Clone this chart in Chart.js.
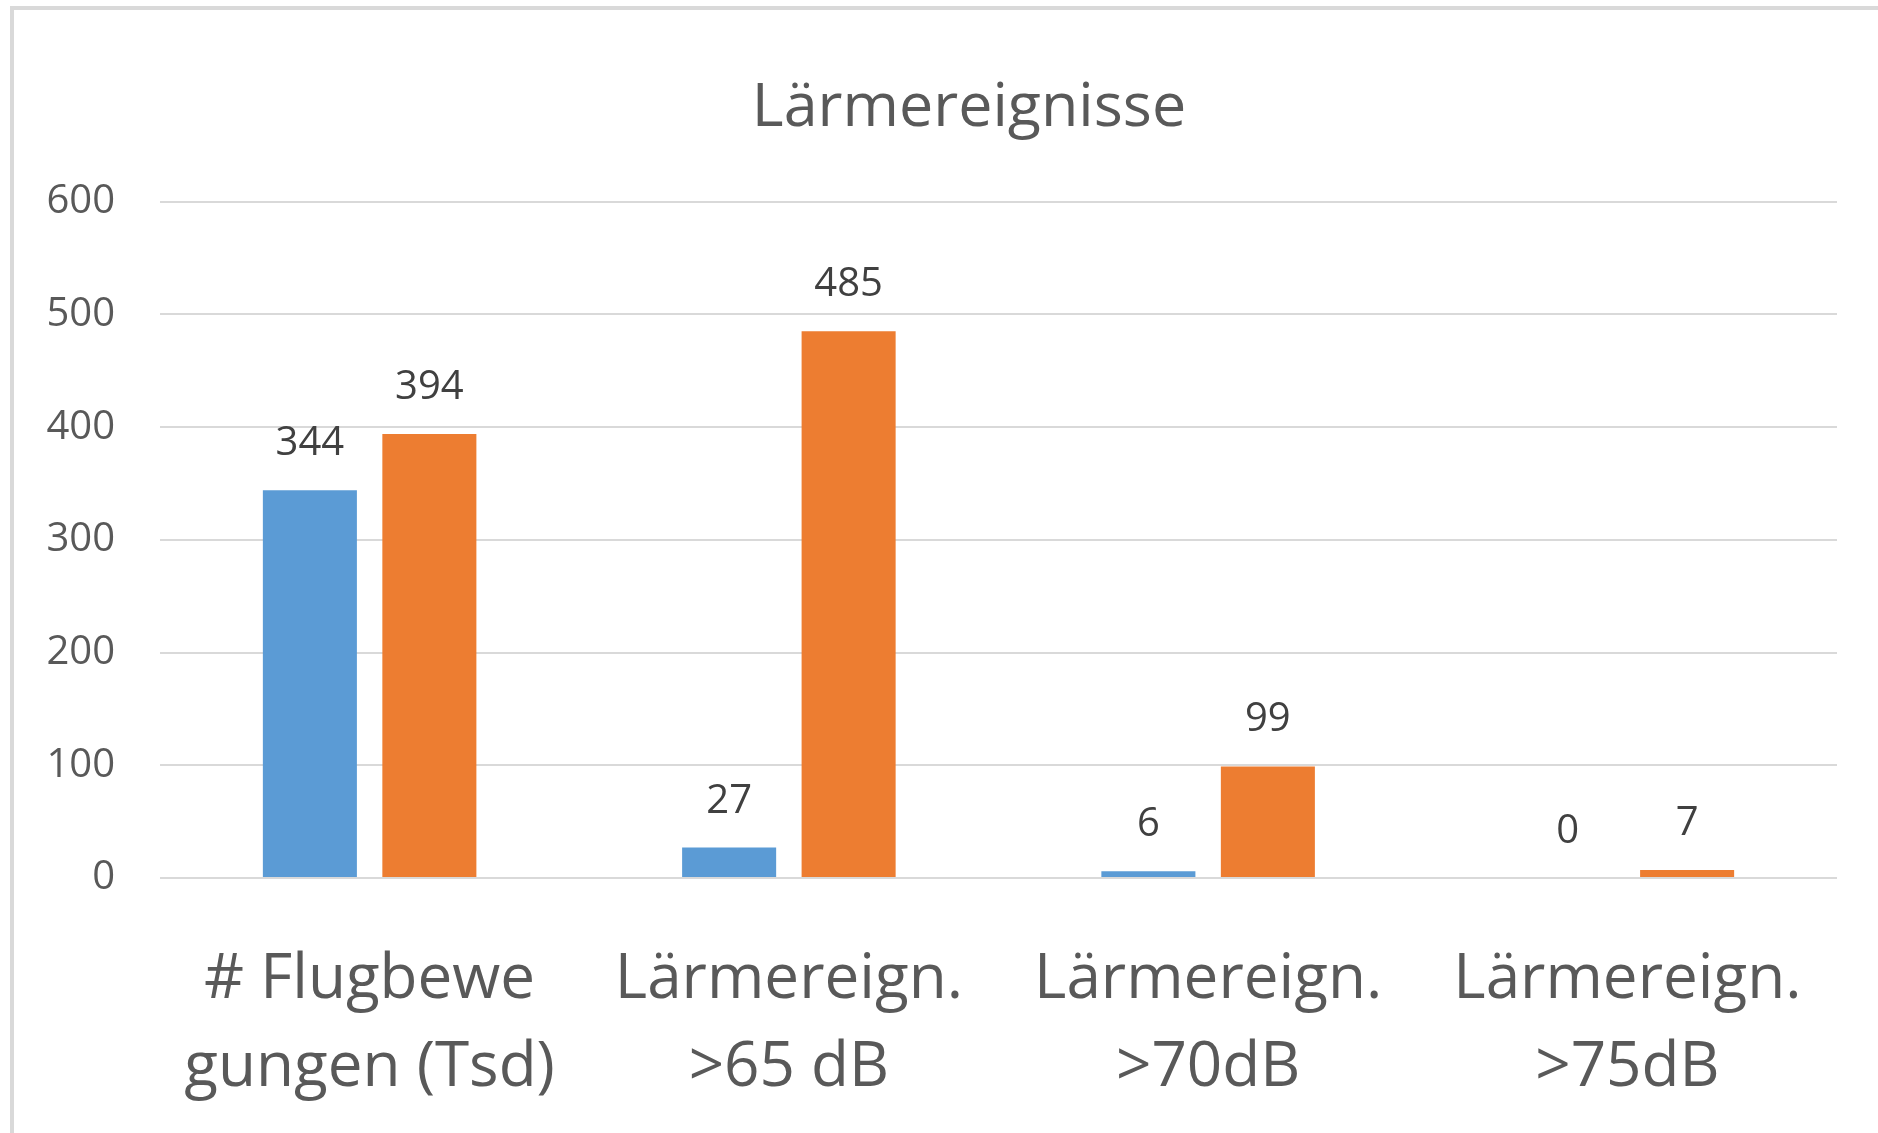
<!DOCTYPE html>
<html>
<head>
<meta charset="utf-8">
<script src="https://cdn.jsdelivr.net/npm/chart.js@4.4.1/dist/chart.umd.min.js"></script>
<style>
  html, body { margin: 0; padding: 0; background: #fff; overflow: hidden; }
  #frame { position: absolute; left: 10px; top: 6px; width: 2000px; height: 1300px; border: 4px solid #d9d9d9; }
  #chart { position: absolute; left: 0; top: 0; }
</style>
</head>
<body>
<div id="frame"></div>
<canvas id="chart" width="1878" height="1133"></canvas>
<script>
const chartTitle = "Lärmereignisse";
const categories = [
  ["# Flugbewe", "gungen (Tsd)"],
  ["Lärmereign.", ">65 dB"],
  ["Lärmereign.", ">70dB"],
  ["Lärmereign.", ">75dB"]
];
const seriesBlue = [344, 27, 6, 0];
const seriesOrange = [394, 485, 99, 7];
const yTicks = [0, 100, 200, 300, 400, 500, 600];

const FONT = "'Open Sans', 'DejaVu Sans', sans-serif";
const textGray = "#595959";

// title is centred on the whole chart frame (wider than the viewport), so draw it by hand
const frameTitle = {
  id: "frameTitle",
  afterDraw(chart) {
    const ctx = chart.ctx;
    ctx.save();
    ctx.font = "61px " + FONT;
    ctx.fillStyle = textGray;
    ctx.textAlign = "center";
    ctx.textBaseline = "alphabetic";
    ctx.fillText(chartTitle, 969, 126);
    ctx.restore();
  }
};

// value labels above each bar
const valueLabels = {
  id: "valueLabels",
  afterDatasetsDraw(chart) {
    const ctx = chart.ctx;
    ctx.save();
    ctx.font = "40px " + FONT;
    ctx.fillStyle = "#404040";
    ctx.textAlign = "center";
    ctx.textBaseline = "alphabetic";
    chart.data.datasets.forEach((ds, i) => {
      chart.getDatasetMeta(i).data.forEach((bar, j) => {
        ctx.fillText(String(ds.data[j]), bar.x, bar.y - 35);
      });
    });
    ctx.restore();
  }
};

const ctx = document.getElementById("chart").getContext("2d");
new Chart(ctx, {
  type: "bar",
  data: {
    labels: categories,
    datasets: [
      { label: "Reihe 1", data: seriesBlue, backgroundColor: "#5b9bd5", barPercentage: 0.787, categoryPercentage: 0.57 },
      { label: "Reihe 2", data: seriesOrange, backgroundColor: "#ed7d31", barPercentage: 0.787, categoryPercentage: 0.57 }
    ]
  },
  options: {
    responsive: false,
    animation: false,
    layout: { padding: { left: 0, right: 41, top: 201.7, bottom: 0 } },
    plugins: {
      legend: { display: false },
      tooltip: { enabled: false },
      title: { display: false }
    },
    scales: {
      x: {
        grid: { display: false },
        border: { display: false },
        ticks: {
          color: textGray,
          font: { family: FONT, size: 62, lineHeight: 1.42 },
          padding: 50,
          maxRotation: 0,
          autoSkip: false
        },
        afterFit: (scale) => { scale.height = 255; }
      },
      y: {
        min: yTicks[0],
        max: yTicks[yTicks.length - 1],
        grid: { color: "#d9d9d9", lineWidth: 2, drawTicks: false },
        border: { display: false },
        ticks: {
          stepSize: yTicks[1] - yTicks[0],
          color: textGray,
          font: { family: FONT, size: 40 },
          padding: 45
        },
        afterFit: (scale) => { scale.width = 160; }
      }
    }
  },
  plugins: [valueLabels, frameTitle]
});
</script>
</body>
</html>
